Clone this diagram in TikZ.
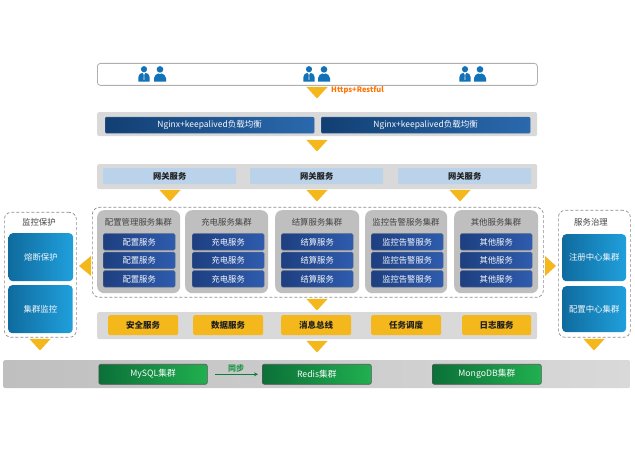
\documentclass[tikz,border=0pt]{standalone}
\usepackage{fontspec}
\setmainfont{Noto Sans CJK SC}
\usetikzlibrary{arrows.meta}
\definecolor{tri}{HTML}{F5B81C}
\definecolor{band}{HTML}{D9D9D9}
\definecolor{clus}{HTML}{BFBFBF}
\definecolor{gw}{HTML}{BAD3EA}
\definecolor{ink}{HTML}{1F1F1F}
\definecolor{lab}{HTML}{444444}
\definecolor{person}{HTML}{1272B8}
\definecolor{HTMLa}{HTML}{123F73}\definecolor{HTMLb}{HTML}{2A69AE}\definecolor{HTMLc}{HTML}{3D6A9A}
\definecolor{HTMLd}{HTML}{1E3F80}\definecolor{HTMLe}{HTML}{2F5CAE}\definecolor{HTMLf}{HTML}{5A6C8C}
\definecolor{HTMLg}{HTML}{0F6B9E}\definecolor{HTMLh}{HTML}{20A0DC}
\definecolor{HTMLi}{HTML}{0B7038}\definecolor{HTMLj}{HTML}{21B04F}\definecolor{HTMLk}{HTML}{555555}
\definecolor{HTMLl}{HTML}{8C8C8C}
\tikzset{x=1pt,y=-1pt,
  boxat/.style n args={4}{minimum width=#3-#1,minimum height=#4-#2,inner sep=0pt,anchor=north west,at={(#1,#2)}},
  bandbox/.style={fill=band,rounded corners=1.5pt,draw=none},
  nginx/.style={left color=HTMLa,right color=HTMLb,draw=HTMLc,line width=.3pt,rounded corners=1pt,text=white!92!gw,font=\fontsize{8.5}{9}\selectfont},
  gwbox/.style={fill=gw,rounded corners=1pt,text=ink,font=\fontsize{8.3}{9}\selectfont\bfseries},
  clusterbox/.style={fill=clus,rounded corners=7pt},
  cltitle/.style={inner sep=0pt,text=lab,font=\fontsize{8.4}{9}\selectfont},
  svc/.style={left color=HTMLd,right color=HTMLe,draw=HTMLf,line width=.4pt,rounded corners=1.5pt,text=white!85!gw,font=\fontsize{8.3}{9}\selectfont},
  side/.style={left color=HTMLg,right color=HTMLh,rounded corners=4pt,text=white!85!gw,font=\fontsize{8.4}{9}\selectfont},
  yel/.style={fill=tri,rounded corners=1.5pt,text=ink,font=\fontsize{8.5}{9}\selectfont\bfseries},
  grn/.style={left color=HTMLi,right color=HTMLj,draw=HTMLk,line width=.6pt,rounded corners=2pt,text=white!90!gw,font=\fontsize{8.7}{9}\selectfont},
  dashbox/.style={draw=HTMLl,densely dashed,line width=.7pt,rounded corners=7pt},
  tribox/.style={fill=tri,draw=none},
}
\newcommand{\tridown}[2]{\fill[tribox] (#1-10.5,#2) -- (#1+10.5,#2) -- (#1,#2+11.5) -- cycle;}
\newcommand{\usera}[1]{\begin{scope}[shift={(#1,66)}]
  \fill[person] (0,3.2) circle (3.1);
  \fill[person] (-5.6,15.6) -- (-5.6,11) .. controls (-5.6,8.2) and (-3.4,7) .. (-1.6,7) -- (1.6,7) .. controls (3.4,7) and (5.6,8.2) .. (5.6,11) -- (5.6,15.6) -- cycle;
  \fill[white] (-1.1,7) -- (1.1,7) -- (0.5,8.6) -- (1,13.5) -- (-1,13.5) -- (-0.5,8.6) -- cycle;
  \fill[person] (-.45,8.2) -- (.45,8.2) -- (.7,12.8) -- (0,13.4) -- (-.7,12.8) -- cycle;
\end{scope}}
\newcommand{\userb}[1]{\begin{scope}[shift={(#1,66)}]
  \fill[person] (0,3.4) circle (3.3);
  \fill[person] (-6,15.6) -- (-6,12) .. controls (-6,9) and (-3,8.2) .. (-1.5,7.4) -- (0,8.4) -- (1.5,7.4) .. controls (3,8.2) and (6,9) .. (6,12) -- (6,15.6) -- cycle;
\end{scope}}
\begin{document}
\begin{tikzpicture}
\useasboundingbox (0,0) rectangle (635,454);
\fill[white] (0,0) rectangle (635,454);
% users
\node[boxat={97}{63}{537}{85},fill=white,draw=HTMLl!70,line width=.8pt,rounded corners=3pt] (users) {};
\usera{144}\userb{160}\usera{309}\userb{324}\usera{465}\userb{480}
\tridown{317}{87}
\node[anchor=west,inner sep=0pt,text=orange!90!red,font=\fontsize{7.5}{8}\selectfont\bfseries] (https) at (331,90) {Https+Restful};
% load balancing
\node[boxat={97}{112}{537}{136},bandbox] (lbband) {};
\node[boxat={105}{117}{314}{133},nginx] (lb1) {Nginx+keepalived负载均衡};
\node[boxat={321}{117}{530}{133},nginx] (lb2) {Nginx+keepalived负载均衡};
\tridown{317}{140}
% gateway
\node[boxat={97}{164}{537}{189},bandbox] (gwband) {};
\node[boxat={103}{168}{236}{184},gwbox] (gw1) {网关服务};
\node[boxat={250}{168}{383}{184},gwbox] (gw2) {网关服务};
\node[boxat={398}{168}{531}{184},gwbox] (gw3) {网关服务};
\tridown{170}{190}\tridown{317}{190}\tridown{460}{190}
% clusters
\node[boxat={92}{207}{543}{297},dashbox] (clusters) {};
\foreach \n/\l/\r/\il/\ir/\t/\s in {a/97/180/103/175/配置管理服务集群/配置服务,b/185/268/192/264/充电服务集群/充电服务,c/275/359/281/353/结算服务集群/结算服务,d/365/447/371/443/监控告警服务集群/监控告警服务,e/454/538/460/532/其他服务集群/其他服务}{
  \node[boxat={\l}{210}{\r}{293},clusterbox] (cl\n) {};
  \node[cltitle] (t\n) at ({(\l+\r)/2},222) {\t};
  \node[boxat={\il}{233.5}{\ir}{250},svc] (s\n1) {\s};
  \node[boxat={\il}{252}{\ir}{268.5},svc] (s\n2) {\s};
  \node[boxat={\il}{270.5}{\ir}{287},svc] (s\n3) {\s};
}
% left panel
\node[boxat={4}{212}{76}{337},dashbox] (leftp) {};
\node[cltitle] (lt) at (39,222) {监控保护};
\node[boxat={8.5}{233}{73}{281},side] (l1) {熔断保护};
\node[boxat={8}{285}{72.5}{333},side] (l2) {集群监控};
\fill[tribox] (79,266) -- (91,256) -- (91,276) -- cycle;
\tridown{40}{339}
% right panel
\node[boxat={558}{210}{630}{337},dashbox] (rightp) {};
\node[cltitle] (rt) at (591,222) {服务治理};
\node[boxat={562}{234}{626}{281},side] (r1) {注册中心集群};
\node[boxat={562}{286}{626}{332},side] (r2) {配置中心集群};
\fill[tribox] (556,266) -- (545,256) -- (545,276) -- cycle;
\tridown{594}{339}
\tridown{317}{299}
% services
\node[boxat={97}{312}{537}{339},bandbox] (svband) {};
\node[boxat={108}{315}{178}{335},yel] (y1) {安全服务};
\node[boxat={193}{315}{263}{335},yel] (y2) {数据服务};
\node[boxat={281}{315}{351}{335},yel] (y3) {消息总线};
\node[boxat={371}{315}{441}{335},yel] (y4) {任务调度};
\node[boxat={462}{315}{531}{335},yel] (y5) {日志服务};
\tridown{317}{341}
% storage
\node[boxat={3}{360}{630}{388},left color=clus,right color=band,rounded corners=1.5pt] (dband) {};
\node[boxat={98.5}{364}{207}{384},grn] (mysql) {MySQL集群};
\node[boxat={262}{364}{371}{384},grn] (redis) {Redis集群};
\node[boxat={432}{364}{541}{384},grn] (mongo) {MongoDB集群};
\draw[-{Stealth[length=4pt,width=4pt]},draw=HTMLi!80!HTMLj,line width=.9pt,shorten <=7.5pt,shorten >=4pt] (mysql.east) -- (redis.west);
\node[inner sep=0pt,text=HTMLj!85!black,font=\fontsize{8}{8}\selectfont\bfseries] (sync) at (236,368) {同步};
\end{tikzpicture}
\end{document}
